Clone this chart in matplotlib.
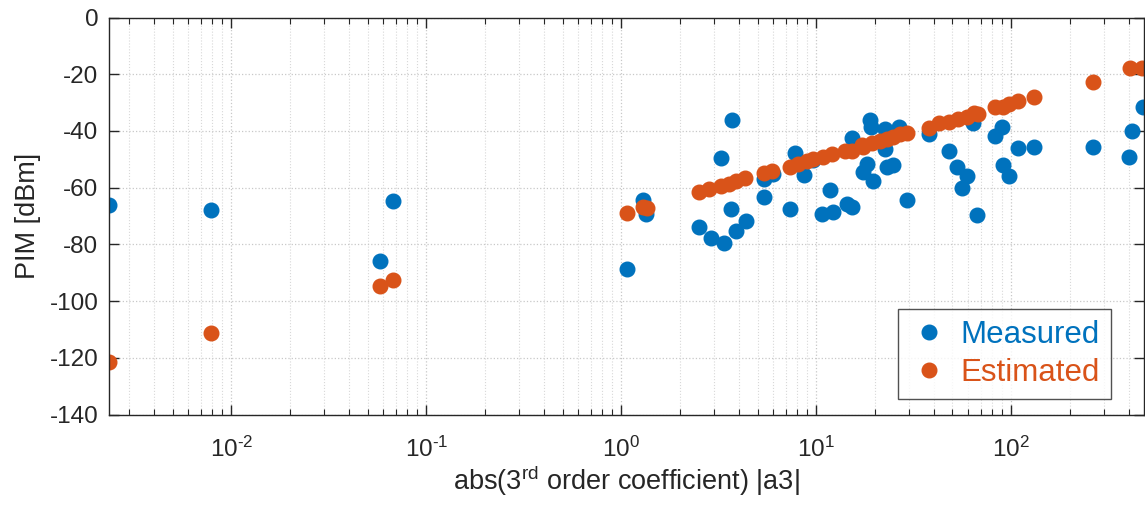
import math
import matplotlib.pyplot as plt
from matplotlib.ticker import LogLocator, FuncFormatter, NullFormatter

plt.rcParams['font.family'] = ['Liberation Sans', 'DejaVu Sans']
plt.rcParams['mathtext.fontset'] = 'custom'
plt.rcParams['mathtext.rm'] = 'Liberation Sans'
plt.rcParams['mathtext.it'] = 'Liberation Sans:italic'
plt.rcParams['axes.unicode_minus'] = False

# measured PIM vs |a3|
meas_x = [0.00237, 0.00789, 0.0577, 0.0675, 1.066, 1.297, 1.339, 2.512, 2.874, 3.351,
          3.874, 4.344, 3.639, 3.245, 3.683, 5.412, 5.412, 6.017, 7.357, 7.777,
          8.648, 9.652, 10.66, 12.23, 11.76, 14.32, 15.30, 15.19, 18.86, 19.01,
          18.26, 17.30, 19.46, 22.96, 24.65, 22.50, 22.50, 26.65, 29.08, 37.84,
          48.10, 52.85, 59.48, 55.67, 66.47, 63.85, 82.48, 89.61, 90.35, 96.98,
          108.6, 130.8, 263.4, 414.5, 399.9, 475.2]
meas_y = [-66.1, -67.9, -85.9, -64.7, -88.7, -64.4, -69.3, -73.8, -77.8, -79.5,
          -75.4, -71.6, -67.6, -49.4, -36.1, -63.2, -57.1, -55.2, -67.5, -47.7,
          -55.6, -50.2, -69.3, -68.7, -60.8, -65.8, -66.7, -42.6, -36.1, -38.7,
          -51.7, -54.5, -57.5, -52.6, -52.1, -46.5, -39.4, -38.7, -64.5, -41.1,
          -47.1, -52.8, -55.8, -60.1, -69.6, -37.3, -41.8, -38.7, -52.1, -55.8,
          -45.9, -45.6, -45.6, -39.9, -49.1, -31.7]

# estimated PIM vs |a3|
est_x = [0.00237, 0.00789, 0.0577, 0.0675, 1.066, 1.297, 1.355, 2.512, 2.824, 3.243,
         3.575, 3.897, 4.319, 5.393, 5.949, 7.332, 8.084, 8.929, 9.652, 10.79,
         11.99, 14.04, 15.19, 17.09, 17.42, 19.23, 21.22, 22.96, 24.83, 26.87,
         29.29, 37.84, 42.74, 48.10, 53.48, 59.06, 64.40, 67.75, 82.48, 91.0,
         97.7, 108.6, 130.8, 263.4, 406.2, 466.4]
est_y = [-121.6, -111.1, -94.7, -92.6, -68.8, -66.9, -67.2, -61.5, -60.6, -59.4,
         -58.8, -57.8, -56.7, -54.9, -54.0, -52.8, -51.7, -50.7, -49.8, -49.1,
         -48.1, -47.0, -47.0, -45.0, -45.6, -44.1, -43.4, -42.9, -42.0, -41.1,
         -40.7, -39.0, -37.3, -36.7, -35.8, -35.0, -33.8, -34.1, -31.7, -31.5,
         -30.5, -29.3, -27.9, -22.8, -17.9, -17.9]

blue = '#0072BD'
orange = '#D95319'
axc = '#262626'


def pow10(v, pos):
    e = int(round(math.log10(v)))
    return r'$10^{\text{%d}}$' % e


fig = plt.figure(figsize=(11.45, 5.12), dpi=100)
ax = fig.add_axes([0.0956, 0.1904, 0.9035, 0.7754])

ax.semilogx(meas_x, meas_y, 'o', color=blue, markersize=10.5, label='Measured')
ax.semilogx(est_x, est_y, 'o', color=orange, markersize=10.5, label='Estimated')

ax.set_xlim(0.00237, 480)
ax.set_ylim(-140, 0)
ax.set_yticks(range(-140, 1, 20))

ax.xaxis.set_major_locator(LogLocator(base=10, numticks=20))
ax.xaxis.set_minor_locator(LogLocator(base=10, subs=range(2, 10), numticks=40))
ax.xaxis.set_major_formatter(FuncFormatter(pow10))
ax.xaxis.set_minor_formatter(NullFormatter())

ax.grid(True, which='major', linestyle=':', color='#c8c8c8', linewidth=0.9)
ax.grid(True, which='minor', axis='x', linestyle=':', color='#d8d8d8', linewidth=0.8)
ax.set_axisbelow(True)

ax.tick_params(which='both', direction='in', top=True, right=True, colors=axc,
               labelsize=17.5, pad=8)
ax.tick_params(axis='x', which='major', pad=16)
ax.tick_params(which='major', length=7, width=1)
ax.tick_params(which='minor', length=4, width=0.8)
for s in ax.spines.values():
    s.set_color(axc)
    s.set_linewidth(1)

ax.set_xlabel(r'abs(3$^{\rm rd}$ order coefficient) |a3|', fontsize=19.5, color=axc, labelpad=1)
ax.set_ylabel('PIM [dBm]', fontsize=19.5, color=axc, labelpad=6)

leg = ax.legend(loc='lower right', bbox_to_anchor=(0.968, 0.039), borderaxespad=0,
                fontsize=22.5, frameon=True, fancybox=False, edgecolor=axc,
                handletextpad=0.35, handlelength=1.3, borderpad=0.35, labelspacing=0.25)
leg.get_frame().set_linewidth(1)
for t, c in zip(leg.get_texts(), [blue, orange]):
    t.set_color(c)

fig.savefig('out.png', dpi=100)
